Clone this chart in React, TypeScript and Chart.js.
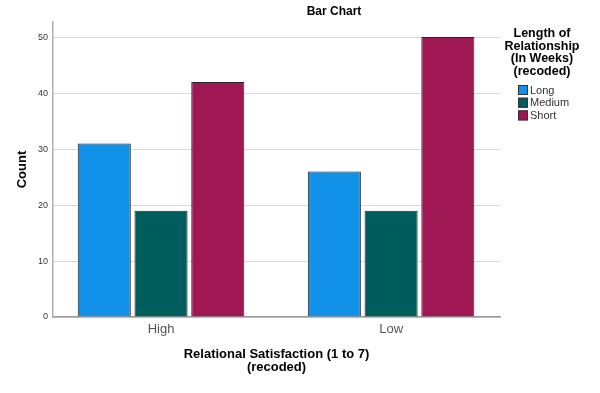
import React, { useEffect, useRef } from "react";
import { Chart, registerables } from "chart.js";

Chart.register(...registerables);

const categories = ["High", "Low"];
const seriesNames = ["Long", "Medium", "Short"];
const longValues = [31, 26];
const mediumValues = [19, 19];
const shortValues = [42, 50];
const seriesColors = ["#1192e8", "#005d5d", "#9f1853"];
const yTicks = [0, 10, 20, 30, 40, 50];
const chartTitle = "Bar Chart";
const yAxisTitle = "Count";
const xAxisTitle = ["Relational Satisfaction (1 to 7)", "(recoded)"];
const legendTitle = ["Length of", "Relationship", "(In Weeks)", "(recoded)"];

const FONT = "'Liberation Sans', Arial, sans-serif";

const textPlugin = {
  id: "textPlugin",
  afterDraw(chart: any) {
    const ctx = chart.ctx;
    const area = chart.chartArea;
    ctx.save();
    ctx.fillStyle = "#000";
    ctx.textBaseline = "middle";
    ctx.textAlign = "center";
    // title
    ctx.font = `bold 12px ${FONT}`;
    ctx.fillText(chartTitle, 334, 12);
    // x axis title
    ctx.font = `bold 13px ${FONT}`;
    const cx = (area.left + area.right) / 2;
    xAxisTitle.forEach((t, i) => ctx.fillText(t, cx, 354 + i * 13));
    // y axis title
    ctx.save();
    ctx.translate(22, (area.top + area.bottom) / 2);
    ctx.rotate(-Math.PI / 2);
    ctx.fillText(yAxisTitle, 0, 0);
    ctx.restore();
    // legend title
    ctx.font = `bold 12.5px ${FONT}`;
    legendTitle.forEach((t, i) => ctx.fillText(t, 542, 34 + i * 12.4));
    // legend items
    ctx.textAlign = "left";
    ctx.font = `11px ${FONT}`;
    seriesNames.forEach((n, i) => {
      const y = 90 + i * 12.7;
      ctx.fillStyle = seriesColors[i];
      ctx.fillRect(518, y - 5, 10, 10);
      ctx.strokeStyle = "#333";
      ctx.lineWidth = 1;
      ctx.strokeRect(518.5, y - 4.5, 9, 9);
      ctx.fillStyle = "#333";
      ctx.fillText(n, 530, y + 0.5);
    });
    ctx.restore();
  },
};

export default function App() {
  const ref = useRef<HTMLCanvasElement | null>(null);
  useEffect(() => {
    if (!ref.current) return;
    const values = [longValues, mediumValues, shortValues];
    const chart = new Chart(ref.current, {
      type: "bar",
      data: {
        labels: categories,
        datasets: seriesNames.map((n, i) => ({
          label: n,
          data: values[i],
          backgroundColor: seriesColors[i],
          borderColor: "#262626",
          borderWidth: 1,
          categoryPercentage: 0.74,
          barPercentage: 0.935,
        })),
      },
      options: {
        animation: false,
        responsive: false,
        maintainAspectRatio: false,
        layout: { padding: { top: 22, right: 100, left: 0, bottom: 0 } },
        plugins: {
          legend: { display: false },
          title: { display: false },
          tooltip: { enabled: false },
        },
        scales: {
          x: {
            type: "category",
            grid: { display: false, drawTicks: false },
            border: { color: "#9a9a9a", width: 1.5 },
            ticks: {
              color: "#555",
              font: { family: FONT, size: 13 },
              padding: 5,
            },
            afterBuildTicks: (s: any) => {
              // widen the spacing between category centres like the reference
              s._startValue = -0.4696;
              s._valueRange = 1.943;
            },
            afterFit: (s: any) => {
              s.height = 393 - 317;
            },
          },
          y: {
            min: 0,
            max: 52.7,
            grid: { color: "#d9d9d9", lineWidth: 1, drawTicks: false },
            border: { color: "#b0b0b0", width: 1.5 },
            ticks: {
              stepSize: 10,
              includeBounds: false,
              color: "#333",
              font: { family: FONT, size: 9 },
              padding: 5,
              callback: (v: any) => (yTicks.includes(v) ? String(v) : ""),
            },
            afterFit: (s: any) => {
              s.width = 53;
            },
          },
        },
      },
      plugins: [textPlugin],
    } as any);
    return () => chart.destroy();
  }, []);
  return (
    <div style={{ position: "absolute", left: 0, top: 0, width: 600, height: 393, background: "#fff" }}>
      <canvas ref={ref} width={600} height={393} style={{ width: 600, height: 393 }} />
    </div>
  );
}
